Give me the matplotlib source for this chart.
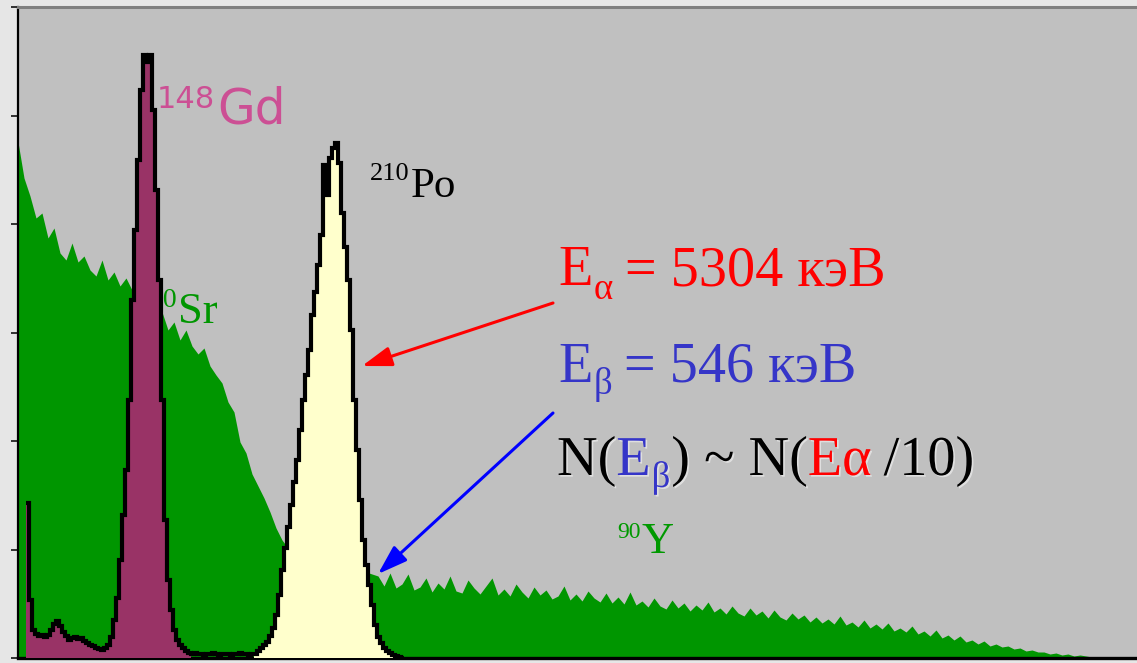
import matplotlib
matplotlib.use("Agg")
import matplotlib.pyplot as plt
import matplotlib.patheffects as pe
import numpy as np

W, H = 1137, 663

# Sr-90 / Y-90 beta continuum, one value every 6 channels from channel 0
beta_step = 6
beta_counts = [
    516, 480, 462, 440, 445, 420, 430, 405, 398, 415, 396, 402, 388, 382, 398, 378, 386, 372, 380, 368,
    366, 362, 358, 352, 346, 328, 336, 318, 328, 312, 304, 310, 292, 283, 275, 256, 246, 216, 205, 184,
    172, 160, 146, 130, 118, 110, 106, 102, 100, 98, 96, 94, 93, 92, 91, 90, 89, 88, 86, 84,
    82, 72, 85, 70, 74, 84, 68, 71, 80, 66, 75, 69, 82, 67, 65, 78, 70, 64, 72, 80,
    63, 69, 62, 74, 66, 60, 71, 63, 68, 59, 62, 72, 58, 64, 57, 67, 60, 56, 65, 55,
    61, 54, 66, 53, 57, 51, 60, 52, 49, 58, 50, 55, 47, 53, 48, 56, 46, 50, 44, 52,
    45, 42, 50, 43, 47, 40, 48, 41, 38, 45, 39, 43, 36, 41, 35, 39, 34, 42, 33, 36,
    31, 38, 30, 34, 29, 35, 27, 30, 26, 32, 24, 27, 22, 28, 20, 23, 18, 22, 16, 18,
    14, 17, 12, 14, 11, 12, 9, 10, 7, 8, 6, 6, 4, 5, 3, 4, 2, 3, 2, 1,
    1, 1, 0, 0,
]

# alpha spectrum, 3-channel bins starting at channel 8
alpha_start = 8
alpha_width = 3
gd_counts = [
    155, 58, 28, 24, 22, 23, 21, 23, 28, 34, 37, 32, 26, 22, 18, 20, 21, 19, 20, 17,
    15, 13, 12, 10, 9, 8, 10, 13, 21, 38, 60, 98, 143, 188, 258, 358, 428, 498, 568, 603,
    596, 603, 548, 468, 378, 258, 138, 78, 48, 28, 18, 13, 10, 7, 5,
]
gap_counts = [4, 5, 4, 4, 3, 4, 4, 5, 4, 3, 4, 4, 4, 3, 4, 4, 5, 4, 4, 3, 4]
po_counts = [
    4, 7, 10, 13, 16, 22, 30, 43, 63, 88, 110, 131, 153, 176, 198, 228, 258, 283, 308, 343,
    366, 393, 423, 493, 463, 500, 510, 515, 495, 445, 411, 378, 328, 258, 208, 158, 118, 93, 73, 53,
    33, 21, 15, 10, 7, 5, 3, 2, 1, 0,
]

y_ticks = np.arange(0, 652, 108.5)

fig = plt.figure(figsize=(W / 100, H / 100), dpi=100, facecolor="#e6e6e6")
ax = fig.add_axes([18 / W, 5 / H, 1119 / W, 651 / H])
ax.set_facecolor("#c0c0c0")
ax.set_xlim(0, 1119)
ax.set_ylim(0, 651)

beta_ch = np.arange(len(beta_counts)) * beta_step
ax.fill_between(beta_ch, beta_counts, color="#009600", lw=0, zorder=1)

n_gd, n_gap, n_po = len(gd_counts), len(gap_counts), len(po_counts)
edges = alpha_start + alpha_width * np.arange(n_gd + n_gap + n_po + 1)
ax.stairs(gd_counts, edges[:n_gd + 1], fill=True, color="#993366", lw=0, zorder=3)
ax.stairs(po_counts, edges[n_gd + n_gap:], fill=True, color="#ffffcc", lw=0, zorder=3)
ax.stairs(gd_counts + gap_counts + po_counts, edges, color="black", lw=3,
          baseline=None, zorder=4)

ax.spines["right"].set_visible(False)
ax.spines["top"].set_color("#7f7f7f")
ax.spines["top"].set_linewidth(2.2)
ax.spines["left"].set_color("black")
ax.spines["left"].set_linewidth(1.6)
ax.spines["bottom"].set_color("black")
ax.spines["bottom"].set_linewidth(2.4)
ax.set_xticks([])
ax.set_yticks(y_ticks)
ax.set_yticklabels([])
ax.tick_params(axis="y", direction="out", length=5, width=1.1, color="black")

renderer = fig.canvas.get_renderer()
serif = "Liberation Serif"
shadow = [pe.withSimplePatchShadow(offset=(1.2, -1.2), shadow_rgbFace="white", alpha=0.5)]


def write(pieces, x, y, family, zorder=6, effects=None):
    # x, y: left edge and baseline in picture pixels (top-left origin)
    cx = x
    for s, color, size, rise, gap in pieces:
        cx += gap
        t = ax.text(cx - 18, 658 - y + rise, s, color=color, fontsize=size,
                    family=family, ha="left", va="baseline", zorder=zorder,
                    path_effects=effects)
        cx = t.get_window_extent(renderer).x1


write([("148", "#cc4f94", 22, 15, 0), ("Gd", "#cc4f94", 35, 0, 2)], 157, 123, "DejaVu Sans")
write([("210", "black", 19, 17, 0), ("Po", "black", 31, 0, 1)], 370, 197, serif)
write([("90", "#009600", 20, 16, 0), ("Sr", "#009600", 32, 0, 1)], 149, 323, serif, zorder=2)
write([("90", "#009900", 17, 15, 0), ("Y", "#009900", 32, 0, 1)], 617, 553, serif)

red, blue = "#ff0000", "#3535c8"
big, sub = 40.5, 26.5
write([("E", red, big, 0, 0), ("α", red, sub, -14, 1), ("= 5304 кэВ", red, big, 0, 12)], 558, 285, serif)
write([("E", blue, big, 0, 0), ("β", blue, sub, -12, 1), ("= 546 кэВ", blue, big, 0, 12)], 558, 382, serif)
write([("N(", "black", big, 0, 0), ("E", blue, big, 0, 0), ("β", blue, sub, -12, 1),
       (") ~ N(", "black", big, 0, 1), ("Eα", red, big, 0, 0), ("/10)", "black", big, 0, 12)],
      557, 475, serif, effects=shadow)

ax.annotate("", xy=(344, 292), xytext=(535, 355),
            arrowprops=dict(arrowstyle="-|>,head_length=0.9,head_width=0.3",
                            color=red, lw=2.2, mutation_scale=20, shrinkA=0, shrinkB=0),
            zorder=6)
ax.annotate("", xy=(360, 84), xytext=(535, 245),
            arrowprops=dict(arrowstyle="-|>,head_length=0.9,head_width=0.3",
                            color="#0000ff", lw=2.2, mutation_scale=20, shrinkA=0, shrinkB=0),
            zorder=6)

fig.savefig("out.png", dpi=100, facecolor=fig.get_facecolor())
